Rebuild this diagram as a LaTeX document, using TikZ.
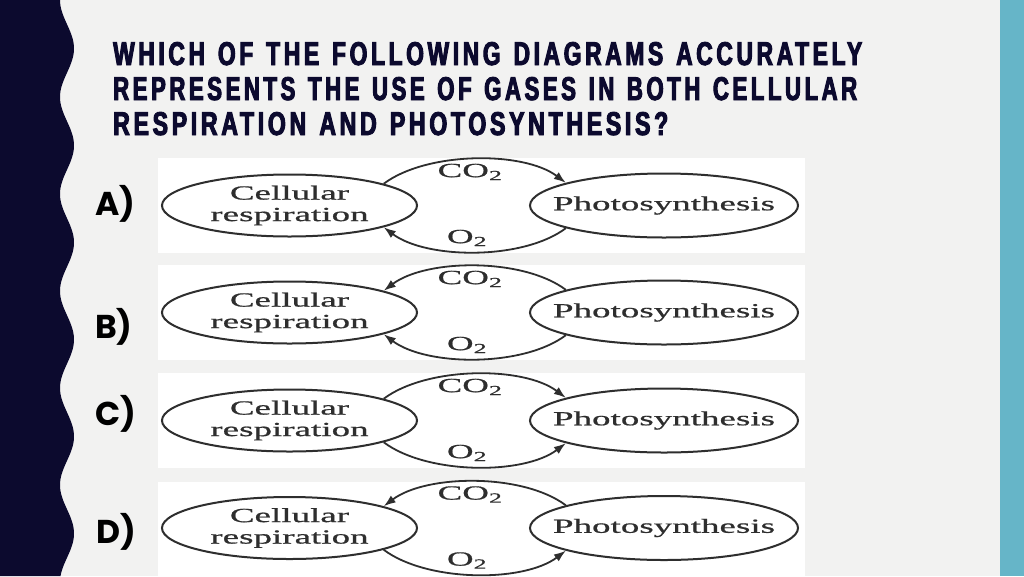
\documentclass[tikz,border=0pt]{standalone}
\usepackage{fontspec}
\usepackage{graphicx}
\usetikzlibrary{arrows.meta,shapes.geometric}
\setmainfont{Liberation Serif}
\newfontfamily\figserif[FakeStretch=1.85,FakeBold=0.8]{Liberation Serif}
\newfontfamily\titlefont[FakeStretch=0.56,LetterSpace=9,FakeBold=2.6,WordSpace=1.3]{Liberation Sans}
\newfontfamily\labfont{Poppins}
\definecolor{navy}{HTML}{0C0A2E}
\definecolor{pagebg}{HTML}{F2F2F1}
\definecolor{teal}{HTML}{66B5C8}
\definecolor{ink}{HTML}{2E2E2E}
\tikzset{
  panelbox/.style={draw=none, fill=white, inner sep=0pt, minimum width=647pt, minimum height=95pt},
  cellbox/.style={ellipse, draw=ink, line width=2pt, inner sep=0pt, minimum width=255pt, minimum height=62pt},
  photobox/.style={cellbox, minimum width=268pt, minimum height=64pt},
  celltext/.style={inner sep=0pt, align=center, text=ink, font=\figserif\fontsize{20}{21.5}\selectfont},
  gaslabel/.style={inner sep=0pt, text=ink, font=\figserif\fontsize{20}{22}\selectfont},
  titletext/.style={inner sep=0pt, anchor=base west, text=navy, font=\titlefont\bfseries\fontsize{32}{34}\selectfont},
  choicetext/.style={inner sep=0pt, anchor=base west, text=black, font=\labfont\bfseries\fontsize{33}{35}\selectfont},
  gasline/.style={draw=ink, line width=1.8pt},
  fwd/.style={gasline, -{Latex[length=12pt,width=8.5pt]}},
  bwd/.style={gasline, {Latex[length=12pt,width=8.5pt]}-},
}
% #1 prefix, #2 ellipse centre y, #3 panel centre y, #4 top arc tip, #5 bottom arc tip
\newcommand\gaspanel[5]{%
  \node[panelbox] (#1box) at (481.5,{-#3}) {};
  \node[cellbox, label={[celltext]center:{Cellular\\respiration}}] (#1L) at (289.5,{-#2}) {};
  \node[photobox, label={[celltext]center:{Photosynthesis}}] (#1R) at (664,{-#2}) {};
  \node[gaslabel] (#1co) at (470,{-#2+33.5}) {CO\textsubscript{2}};
  \node[gaslabel] (#1o) at (467,{-#2-32.5}) {O\textsubscript{2}};
  \draw[#4] (#1L.13) to[out=37,in=143,looseness=0.75] (#1R.167);
  \draw[#5] (#1L.347) to[out=323,in=217,looseness=0.75] (#1R.193);
}
\begin{document}
\begin{tikzpicture}[x=1pt,y=1pt]
\useasboundingbox (0,0) rectangle (1024,-576);
\fill[pagebg] (0,0) rectangle (1024,-576);
\fill[navy] (0,0) -- plot[domain=0:576, samples=240] ({67-7*cos(3.71134*\x)},{-\x}) -- (0,-576) -- cycle;
\fill[teal] (1000,0) rectangle (1024,-576);

\node[titletext] (t1) at (113,-65) {\resizebox{749pt}{23pt}{WHICH OF THE FOLLOWING DIAGRAMS ACCURATELY}};
\node[titletext] (t2) at (113,-100) {\resizebox{744pt}{23pt}{REPRESENTS THE USE OF GASES IN BOTH CELLULAR}};
\node[titletext] (t3) at (113,-135) {\resizebox{555pt}{23pt}{RESPIRATION AND PHOTOSYNTHESIS?}};

\gaspanel{a}{205.5}{205.5}{fwd}{bwd}
\gaspanel{b}{312.5}{312.5}{bwd}{bwd}
\gaspanel{c}{420.5}{420.5}{fwd}{fwd}
\gaspanel{d}{528}{529}{bwd}{fwd}

\node[choicetext] (la) at (95,-215) {A)};
\node[choicetext] (lb) at (95,-338) {B)};
\node[choicetext] (lc) at (95,-425) {C)};
\node[choicetext] (ld) at (96,-543) {D)};
\end{tikzpicture}
\end{document}
